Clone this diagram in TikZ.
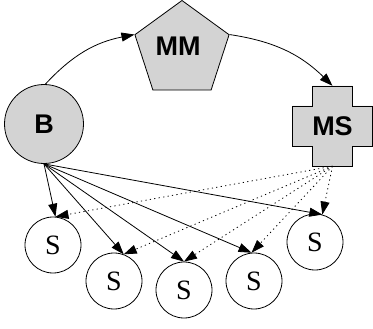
\documentclass[tikz,border=0pt]{standalone}
\usepackage{fontspec}
\setmainfont{Liberation Serif}
\setsansfont{Liberation Sans}
\usetikzlibrary{arrows.meta,shapes.geometric}

\definecolor{nodegray}{HTML}{D3D3D3}

\begin{document}
\begin{tikzpicture} [x=1pt,y=-1pt,{hub/.style={circle,draw,fill=nodegray,line width=0.8pt,minimum size=79pt,inner sep=0pt,font=\sffamily\bfseries\fontsize{27}{27}\selectfont}},{pent/.style={regular polygon,regular polygon sides=5,draw,fill=nodegray,line width=0.8pt,minimum size=99pt,inner sep=0pt}},{crossbox/.style={rectangle,minimum width=80pt,minimum height=80pt,inner sep=0pt,font=\sffamily\bfseries\fontsize{27}{27}\selectfont}},{sat/.style={circle,draw,line width=0.8pt,minimum size=56pt,inner sep=0pt,font=\rmfamily\fontsize{28}{28}\selectfont}},{flow/.style={line width=0.8pt,-{Triangle[length=13pt,width=9pt]}}},{lazy/.style={flow,dash pattern=on 1.2pt off 3.3pt}}]
	\useasboundingbox (0,0) rectangle (373,329);
	%%big nodes
	\node [hub] (b) at (44,124) {B};
	\node [pent,label={[font=\sffamily\bfseries\fontsize{27}{27}\selectfont,xshift=-4pt,yshift=4pt]center:MM}] (mm) at (182,50) {};
	%%plus shaped box, drawn by hand
	\filldraw [fill=nodegray,line width=0.8pt] (312.5,86) -- ++(40,0) -- ++(0,20) -- ++(20,0) -- ++(0,40) -- ++(-20,0) -- ++(0,20) -- ++(-40,0) -- ++(0,-20) -- ++(-20,0) -- ++(0,-40) -- ++(20,0) -- cycle;
	\node [crossbox] (ms) at (332.5,126) {MS};
	%%small ones
	\node [sat] (s1) at (53,245) {S};
	\node [sat] (s2) at (114,281) {S};
	\node [sat] (s3) at (184,290) {S};
	\node [sat] (s4) at (254,281) {S};
	\node [sat] (s5) at (315,242) {S};
	%%top arcs
	\draw [flow] (b.88) to[bend left=18] (mm.corner 2);
	\draw [flow] (mm.corner 5) to[bend left=18] (ms.north);
	%%fan out
	\foreach \s/\a in {s1/85,s2/70,s3/90,s4/95,s5/75}{
		\draw [flow] (b.south) -- (\s.\a);
		\draw [lazy] (ms.south) -- (\s.\a);
	}
\end{tikzpicture}
\end{document}
